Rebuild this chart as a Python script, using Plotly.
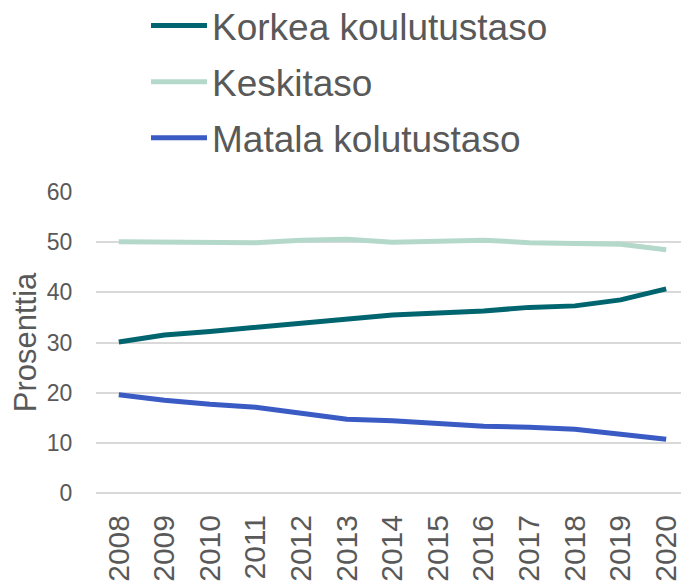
import plotly.graph_objects as go

years = ["2008", "2009", "2010", "2011", "2012", "2013", "2014",
         "2015", "2016", "2017", "2018", "2019", "2020"]
korkea = [30.1, 31.5, 32.2, 33.0, 33.7, 34.6, 35.5, 35.9, 36.3, 37.0, 37.3, 38.5, 40.7]
keskitaso = [50.1, 50.0, 50.0, 49.9, 50.4, 50.6, 50.0, 50.2, 50.4, 49.9, 49.8, 49.6, 48.5]
matala = [19.6, 18.5, 17.7, 17.1, 15.9, 14.7, 14.4, 13.9, 13.3, 13.1, 12.7, 11.7, 10.7]

series = [
    ("Korkea koulutustaso", korkea, "#00656F"),
    ("Keskitaso", keskitaso, "#B4D9CB"),
    ("Matala kolutustaso", matala, "#3A5BC4"),
]

FONT = "Liberation Sans, Arial, sans-serif"
GREY = "#595959"

fig = go.Figure()
for i, (name, vals, col) in enumerate(series):
    fig.add_trace(go.Scatter(
        x=years, y=vals, name=name, mode="lines",
        line=dict(color=col, width=5),
        legendgroup=f"g{i}",
    ))

# page body has an 8px margin, so the figure is sized to fit inside the window
fig.update_layout(
    width=681, height=577,
    margin=dict(l=88, r=0, t=184, b=92, autoexpand=False),
    paper_bgcolor="white", plot_bgcolor="white",
    font=dict(family=FONT, color=GREY),
    showlegend=True,
    legend=dict(
        xref="paper", yref="paper",
        x=50 / 593, y=1 + 197 / 301, xanchor="left", yanchor="top",
        font=dict(size=37, color=GREY, family=FONT),
        itemwidth=56, tracegroupgap=5,
        bgcolor="rgba(0,0,0,0)",
    ),
    xaxis=dict(
        type="category", range=[-0.5, 12.5],
        showgrid=False, zeroline=False, showline=False,
        tickangle=-90, tickfont=dict(size=30, color=GREY),
        ticks="outside", ticklen=9, tickcolor="rgba(0,0,0,0)",
    ),
    yaxis=dict(
        range=[0, 60], dtick=10, tick0=0,
        showgrid=True, gridcolor="#D9D9D9", gridwidth=1.5,
        zeroline=True, zerolinecolor="#D9D9D9", zerolinewidth=1.5,
        showline=False,
        tickfont=dict(size=23, color=GREY),
        ticks="outside", ticklen=18, tickcolor="rgba(0,0,0,0)",
        title=dict(text="Prosenttia", font=dict(size=31, color=GREY), standoff=14),
    ),
)

fig.write_html("out.html")
